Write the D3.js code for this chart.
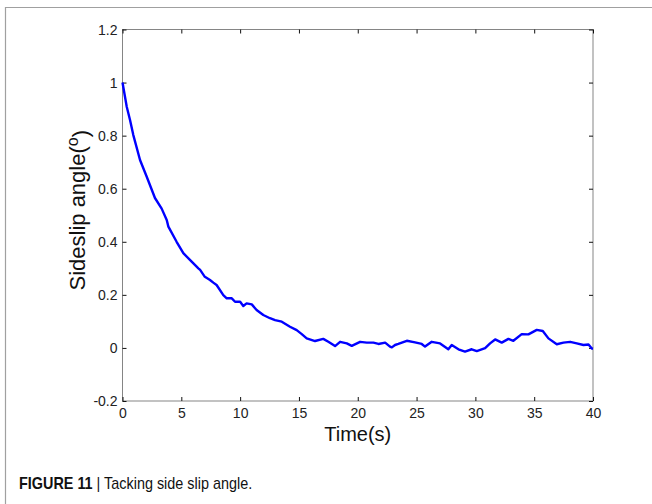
<!DOCTYPE html>
<html>
<head>
<meta charset="utf-8">
<script src="https://cdn.jsdelivr.net/npm/d3@7/dist/d3.min.js"></script>
<style>
  html, body { margin: 0; padding: 0; background: #fff; }
  svg { display: block; }
</style>
</head>
<body>
<svg id="chart" width="652" height="504"></svg>
<script>
// ---- data ----
const timeS = [0, 0.36, 0.64, 0.92, 1.49, 2.06, 2.76, 3.33, 3.76, 3.9, 4.6, 5.17, 5.88, 6.45, 6.6, 7.0, 7.44, 7.72, 8.0, 8.57, 8.86, 9.29, 9.57, 10.0, 10.27, 10.55, 10.99, 11.4, 11.97, 12.54, 12.97, 13.54, 14.24, 14.81, 15.24, 15.66, 16.37, 17.07, 17.5, 18.07, 18.5, 19.07, 19.49, 20.2, 20.77, 21.33, 21.76, 22.33, 22.74, 22.9, 23.17, 23.45, 24.17, 24.87, 25.44, 25.72, 26.29, 27.0, 27.7, 27.99, 28.56, 29.12, 29.69, 30.12, 30.83, 31.25, 31.68, 32.24, 32.81, 33.23, 33.94, 34.51, 35.22, 35.73, 36.21, 36.92, 37.49, 38.06, 38.62, 39.19, 39.62, 39.9, 40];
const slipAngle = [1.0, 0.909, 0.859, 0.802, 0.708, 0.645, 0.565, 0.525, 0.482, 0.457, 0.4, 0.357, 0.325, 0.3, 0.294, 0.268, 0.256, 0.246, 0.237, 0.199, 0.187, 0.187, 0.174, 0.174, 0.158, 0.168, 0.164, 0.143, 0.124, 0.112, 0.105, 0.099, 0.08, 0.067, 0.052, 0.036, 0.026, 0.034, 0.023, 0.007, 0.023, 0.017, 0.008, 0.023, 0.02, 0.02, 0.015, 0.02, 0.005, 0.002, 0.011, 0.015, 0.027, 0.021, 0.015, 0.005, 0.023, 0.017, -0.005, 0.011, -0.005, -0.014, -0.005, -0.012, -0.001, 0.017, 0.032, 0.02, 0.034, 0.027, 0.052, 0.051, 0.068, 0.064, 0.036, 0.014, 0.02, 0.023, 0.017, 0.011, 0.013, -0.002, -0.003];
const xTicks = [0, 5, 10, 15, 20, 25, 30, 35, 40];
const yTicks = [-0.2, 0, 0.2, 0.4, 0.6, 0.8, 1, 1.2];
const xLabel = "Time(s)";
const yLabel = "Sideslip angle(";
const captionBold = "FIGURE 11";
const captionRest = " | Tacking side slip angle.";

// ---- layout ----
const svg = d3.select("#chart");
const L = 122.5, R = 593, T = 29.5, B = 401;
const x = d3.scaleLinear().domain([0, 40]).range([L, R]);
const y = d3.scaleLinear().domain([-0.2, 1.2]).range([B, T]);
const font = "'Liberation Sans', Arial, Helvetica, sans-serif";

// outer frame (cropped at right/bottom)
svg.append("path")
  .attr("d", "M5.5,504 L5.5,7.5 L652,7.5")
  .attr("fill", "none").attr("stroke", "#a0a0a0").attr("stroke-width", 1.2);

// plot box
svg.append("rect").attr("x", L).attr("y", T).attr("width", R - L).attr("height", B - T)
  .attr("fill", "none").attr("stroke", "#858585").attr("stroke-width", 1);

const tickLen = 4;
const fmt = d => String(+d.toFixed(1));
const xAxis = d3.axisBottom(x).tickValues(xTicks).tickSize(-tickLen).tickPadding(14).tickFormat(fmt);
const gx = svg.append("g").attr("transform", `translate(0,${B})`).call(xAxis);
const xTop = d3.axisTop(x).tickValues(xTicks).tickSize(-tickLen).tickFormat("");
const gxt = svg.append("g").attr("transform", `translate(0,${T})`).call(xTop);
const yAxis = d3.axisLeft(y).tickValues(yTicks).tickSize(-tickLen).tickPadding(10).tickFormat(fmt);
const gy = svg.append("g").attr("transform", `translate(${L},0)`).call(yAxis);
const yRight = d3.axisRight(y).tickValues(yTicks).tickSize(-tickLen).tickFormat("");
const gyr = svg.append("g").attr("transform", `translate(${R},0)`).call(yRight);

[gx, gxt, gy, gyr].forEach(g => {
  g.attr("font-size", 14).attr("font-family", font);
  g.select(".domain").remove();
  g.selectAll(".tick line").attr("stroke", "#111").attr("stroke-width", 1);
  g.selectAll(".tick text").attr("fill", "#222").attr("font-size", 14).attr("font-family", font);
});
gx.selectAll(".tick text").attr("dy", "0.71em").attr("y", 7);
gy.selectAll(".tick text").attr("x", -5).attr("dy", "0.34em");

// line
const line = d3.line().x((d, i) => x(timeS[i])).y(d => y(d));
svg.append("path").datum(slipAngle)
  .attr("d", line)
  .attr("fill", "none").attr("stroke", "#0000ff").attr("stroke-width", 2.4)
  .attr("stroke-linejoin", "round");

// axis labels
svg.append("text").attr("x", (L + R) / 2).attr("y", 441)
  .attr("text-anchor", "middle").attr("fill", "#111")
  .attr("font-family", font).attr("font-size", 20).text(xLabel);

const yl = svg.append("text")
  .attr("transform", `translate(85,${(T + B) / 2 - 5}) rotate(-90)`)
  .attr("text-anchor", "middle").attr("fill", "#111")
  .attr("font-family", font).attr("font-size", 22);
yl.append("tspan").text(yLabel);
yl.append("tspan").attr("dy", "-0.45em").attr("font-size", 16).text("o");
yl.append("tspan").attr("dy", "0.45em").text(")");

// caption (condensed face)
const cap = svg.append("text").attr("transform", "translate(19,489) scale(0.9,1)")
  .attr("fill", "#111")
  .attr("font-family", font).attr("font-size", 16);
cap.append("tspan").attr("font-weight", "bold").text(captionBold);
cap.append("tspan").text(captionRest);
</script>
</body>
</html>
